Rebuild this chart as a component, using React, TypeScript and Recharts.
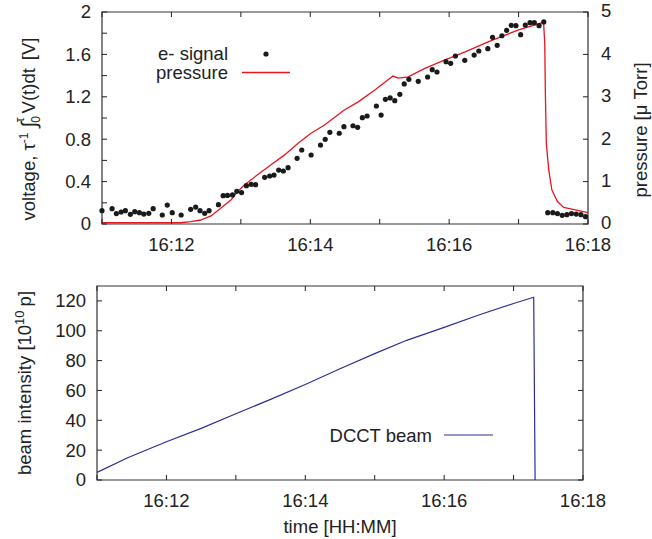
import {
  ComposedChart,
  LineChart,
  Line,
  Scatter,
  XAxis,
  YAxis,
  ReferenceArea,
  Legend,
  Label,
} from "recharts";

// time axis is minutes after 16:00
const timeTicks = [11, 12, 13, 14, 15, 16, 17, 18];
const voltTicks = [0, 0.2, 0.4, 0.6, 0.8, 1, 1.2, 1.4, 1.6, 1.8, 2];
const pressureTicks = [0, 1, 2, 3, 4, 5];
const beamTicks = [0, 20, 40, 60, 80, 100, 120];

// e- signal, tau^-1 * integral of V(t)dt [V]
const signalTimes = [
  11.0, 11.145, 11.207, 11.275, 11.337, 11.409, 11.472, 11.539, 11.602, 11.674,
  11.737, 11.868, 11.94, 12.012, 12.14, 12.277, 12.349, 12.412, 12.479, 12.542,
  12.677, 12.745, 12.807, 12.88, 12.942, 13.01, 13.08, 13.149, 13.212, 13.343,
  13.415, 13.477, 13.545, 13.612, 13.68, 13.81, 13.877, 14.012, 14.147, 14.215,
  14.282, 14.417, 14.485, 14.615, 14.682, 14.75, 14.818, 14.952, 15.02, 15.082,
  15.15, 15.217, 15.29, 15.353, 15.42, 15.555, 15.69, 15.757, 15.825, 15.955,
  16.022, 16.09, 16.225, 16.36, 16.427, 16.557, 16.625, 16.692, 16.76, 16.828,
  16.895, 16.962, 17.03, 17.097, 17.165, 17.227, 17.295, 17.363, 17.42, 17.493,
  17.56, 17.628, 17.695, 17.762, 17.83, 17.898, 17.965,
];
const signalVolts = [
  0.126, 0.145, 0.098, 0.113, 0.126, 0.091, 0.116, 0.107, 0.094, 0.101,
  0.145, 0.085, 0.179, 0.107, 0.085, 0.138, 0.16, 0.126, 0.101, 0.126,
  0.182, 0.267, 0.27, 0.274, 0.308, 0.296, 0.362, 0.374, 0.371, 0.44,
  0.453, 0.462, 0.509, 0.5, 0.531, 0.62, 0.698, 0.651, 0.745, 0.799,
  0.865, 0.856, 0.918, 0.927, 0.912, 1.003, 1.019, 1.113, 1.028, 1.176,
  1.189, 1.163, 1.223, 1.321, 1.365, 1.346, 1.387, 1.456, 1.434, 1.531,
  1.516, 1.585, 1.544, 1.594, 1.632, 1.654, 1.761, 1.686, 1.776, 1.827,
  1.874, 1.871, 1.786, 1.877, 1.899, 1.899, 1.871, 1.906, 0.107, 0.107,
  0.098, 0.082, 0.088, 0.098, 0.094, 0.088, 0.069,
];

// pressure [uTorr]
const pressureTimes = [
  11.0, 12.13, 12.28, 12.42, 12.57, 12.71, 12.86, 12.95, 13.05, 13.24, 13.43,
  13.63, 13.82, 14.01, 14.2, 14.49, 14.69, 14.93, 15.19, 15.27, 15.41, 15.65,
  15.94, 16.23, 16.57, 17.0, 17.34, 17.36, 17.377, 17.386, 17.4, 17.435, 17.48,
  17.56, 17.65, 18.0,
];
const pressureValues = [
  0.03, 0.03, 0.055, 0.094, 0.19, 0.37, 0.57, 0.76, 0.92, 1.16, 1.39,
  1.63, 1.9, 2.14, 2.33, 2.69, 2.88, 3.16, 3.49, 3.44, 3.47, 3.67,
  3.87, 4.06, 4.3, 4.58, 4.75, 4.77, 4.26, 3.08, 1.9, 1.27, 0.8,
  0.53, 0.39, 0.27,
];

// DCCT beam [10^10 p]
const beamTimes = [
  11.0, 11.45, 12.0, 12.5, 13.0, 13.5, 14.0, 14.5, 15.0, 15.46, 16.0, 16.52,
  17.0, 17.29, 17.31,
];
const beamValues = [
  5.1, 15.1, 25.6, 34.6, 44.4, 54.0, 64.0, 74.5, 84.7, 93.6, 102.3, 110.9,
  118.3, 122.5, 0,
];

const signal = signalTimes.map((t, i) => ({ t, v: signalVolts[i] }));
const pressure = pressureTimes.map((t, i) => ({ t, p: pressureValues[i] }));
const beam = beamTimes.map((t, i) => ({ t, b: beamValues[i] }));

const FONT = "'Liberation Sans', Arial, Helvetica, sans-serif";
const FS = 18.5;
const INK = "#222";
const RED = "#e8161e";
const BLUE = "#2e2e96";
const TICK = 5;

const timeLabel = (m: number) => (m % 2 === 0 ? `16:${m}` : "");

const xTick = (plotH: number) => (props: any) => {
  const { x, y, payload } = props;
  const text = timeLabel(payload.value);
  return (
    <g>
      <line x1={x} x2={x} y1={y} y2={y - TICK} stroke={INK} />
      <line x1={x} x2={x} y1={y - plotH} y2={y - plotH + TICK} stroke={INK} />
      {text && (
        <text x={x} y={y + 26.5} textAnchor="middle" fontSize={FS} fontFamily={FONT} fill={INK}>
          {text}
        </text>
      )}
    </g>
  );
};

const leftTick = (show: (v: number) => boolean, mirrorW: number) => (props: any) => {
  const { x, y, payload } = props;
  const v = payload.value;
  return (
    <g>
      <line x1={x} x2={x + TICK} y1={y} y2={y} stroke={INK} />
      {mirrorW > 0 && <line x1={x + mirrorW} x2={x + mirrorW - TICK} y1={y} y2={y} stroke={INK} />}
      {show(v) && (
        <text x={x - 11} y={y} dy="0.35em" textAnchor="end" fontSize={FS} fontFamily={FONT} fill={INK}>
          {String(v)}
        </text>
      )}
    </g>
  );
};

const rightTick = (props: any) => {
  const { x, y, payload } = props;
  return (
    <g>
      <line x1={x} x2={x - TICK} y1={y} y2={y} stroke={INK} />
      <text x={x + 13} y={y - 1} dy="0.35em" textAnchor="start" fontSize={FS} fontFamily={FONT} fill={INK}>
        {String(payload.value)}
      </text>
    </g>
  );
};

const everyOther = (v: number) => Math.abs(v / 0.4 - Math.round(v / 0.4)) < 1e-6;

const VoltLabel = () => (
  <text
    x={35}
    y={129}
    transform="rotate(-90, 35, 129)"
    textAnchor="middle"
    fontSize={FS}
    fontFamily={FONT}
    fill={INK}
  >
    voltage, τ
    <tspan dy={-7} fontSize={12}>-1</tspan>
    <tspan dy={8} dx={5} fontSize={21}>∫</tspan>
    <tspan dy={4} dx={-1} fontSize={12}>0</tspan>
    <tspan dy={-16} dx={-6} fontSize={12}>τ</tspan>
    <tspan dy={11} dx={4}>V(t)dt</tspan>
    <tspan dx={8}>[V]</tspan>
  </text>
);

const PressureLabel = () => (
  <text
    x={647}
    y={130}
    transform="rotate(-90, 647, 130)"
    textAnchor="middle"
    fontSize={FS}
    fontFamily={FONT}
    fill={INK}
  >
    pressure [μ Torr]
  </text>
);

const BeamLabel = () => (
  <text
    x={31}
    y={123}
    transform="rotate(-90, 31, 123)"
    textAnchor="middle"
    fontSize={FS}
    fontFamily={FONT}
    fill={INK}
  >
    beam intensity [10
    <tspan dy={-7} fontSize={13}>10</tspan>
    <tspan dy={7} dx={4}>p]</tspan>
  </text>
);

const TimeLabel = () => (
  <text x={340} y={273} textAnchor="middle" fontSize={FS} fontFamily={FONT} fill={INK}>
    time [HH:MM]
  </text>
);

const TopLegend = () => (
  <svg width={652} height={260}>
    <text x={228} y={60} textAnchor="end" fontSize={FS} fontFamily={FONT} fill={INK}>
      e- signal
    </text>
    <circle cx={266} cy={54} r={2.6} fill="#1a1a1a" />
    <text x={228} y={79} textAnchor="end" fontSize={FS} fontFamily={FONT} fill={INK}>
      pressure
    </text>
    <line x1={242} x2={290} y1={72.5} y2={72.5} stroke={RED} strokeWidth={1.3} />
  </svg>
);

const BottomLegend = () => (
  <svg width={652} height={279}>
    <text x={432} y={182} textAnchor="end" fontSize={FS} fontFamily={FONT} fill={INK}>
      DCCT beam
    </text>
    <line x1={444} x2={493} y1={175} y2={175} stroke={BLUE} strokeWidth={1.2} />
  </svg>
);

const Dot = (props: any) => <circle cx={props.cx} cy={props.cy} r={2.6} fill="#1a1a1a" />;

export default function App() {
  return (
    <div style={{ position: "absolute", left: 0, top: 0, width: 652, height: 539, background: "#fff" }}>
      <div style={{ position: "absolute", left: 0, top: 0 }}>
        <ComposedChart width={652} height={260} margin={{ top: 12, right: 0, bottom: 0, left: 0 }}>
          <XAxis
            xAxisId="t"
            dataKey="t"
            type="number"
            domain={[11, 18]}
            ticks={timeTicks}
            interval={0}
            height={36}
            axisLine={false}
            tickLine={false}
            tickSize={0}
            tickMargin={0}
            tick={xTick(212)}
          />
          <YAxis
            yAxisId="v"
            type="number"
            domain={[0, 2]}
            ticks={voltTicks}
            interval={0}
            width={102}
            axisLine={false}
            tickLine={false}
            tickSize={0}
            tickMargin={0}
            tick={leftTick(everyOther, 0)}
            label={<Label content={VoltLabel} />}
          />
          <YAxis
            yAxisId="p"
            orientation="right"
            type="number"
            domain={[0, 5]}
            ticks={pressureTicks}
            interval={0}
            width={64}
            axisLine={false}
            tickLine={false}
            tickSize={0}
            tickMargin={0}
            tick={rightTick}
            label={<Label content={PressureLabel} />}
          />
          <Line
            xAxisId="t"
            yAxisId="p"
            data={pressure}
            dataKey="p"
            type="linear"
            stroke={RED}
            strokeWidth={1.3}
            dot={false}
            isAnimationActive={false}
          />
          <Scatter
            xAxisId="t"
            yAxisId="v"
            data={signal}
            dataKey="v"
            shape={Dot}
            isAnimationActive={false}
          />
          <ReferenceArea xAxisId="t" yAxisId="v" x1={11} x2={18} y1={0} y2={2} fill="none" stroke="#333" strokeWidth={1.2} />
          <Legend
            layout="vertical"
            align="center"
            verticalAlign="middle"
            wrapperStyle={{ left: 0, top: 0, width: 652, height: 260, pointerEvents: "none" }}
            content={TopLegend}
          />
        </ComposedChart>
      </div>
      <div style={{ position: "absolute", left: 0, top: 260 }}>
        <LineChart width={652} height={279} margin={{ top: 26, right: 69, bottom: 0, left: 0 }}>
          <XAxis
            dataKey="t"
            type="number"
            domain={[11, 18]}
            ticks={timeTicks}
            interval={0}
            height={59}
            axisLine={false}
            tickLine={false}
            tickSize={0}
            tickMargin={0}
            tick={xTick(194)}
            label={<Label content={TimeLabel} />}
          />
          <YAxis
            type="number"
            domain={[0, 130]}
            ticks={beamTicks}
            interval={0}
            width={97}
            axisLine={false}
            tickLine={false}
            tickSize={0}
            tickMargin={0}
            tick={leftTick(() => true, 486)}
            label={<Label content={BeamLabel} />}
          />
          <Line
            data={beam}
            dataKey="b"
            type="linear"
            stroke={BLUE}
            strokeWidth={1.2}
            dot={false}
            isAnimationActive={false}
          />
          <ReferenceArea x1={11} x2={18} y1={0} y2={130} fill="none" stroke="#333" strokeWidth={1.2} />
          <Legend
            layout="vertical"
            align="center"
            verticalAlign="middle"
            wrapperStyle={{ left: 0, top: 0, width: 652, height: 279, pointerEvents: "none" }}
            content={BottomLegend}
          />
        </LineChart>
      </div>
    </div>
  );
}
